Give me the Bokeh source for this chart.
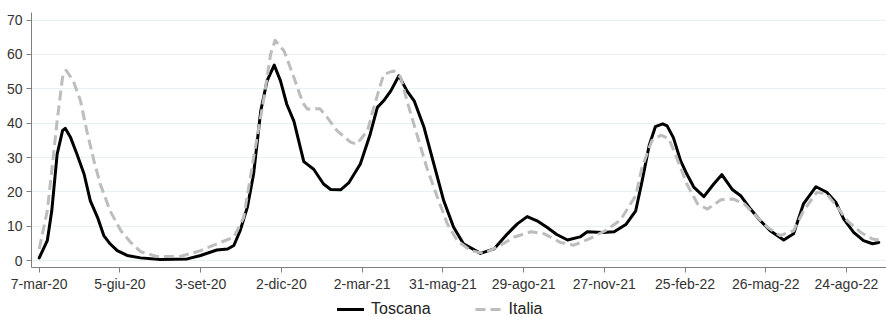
from bokeh.plotting import figure
from bokeh.models import Range1d, FixedTicker, Legend, LegendItem
from bokeh.layouts import column
from bokeh.embed import file_html
from bokeh.resources import INLINE

# day offsets from 7-mar-2020
tos_days = [0, 9, 14, 20, 26, 29, 35, 42, 50, 57, 65, 72, 79, 87, 98, 113, 135, 165, 180, 198,
            210, 217, 224, 232, 239, 247, 254, 262, 269, 276, 284, 291, 295, 306, 317, 325, 336, 345,
            358, 369, 377, 384, 392, 401, 410, 418, 429, 440, 451, 462, 473, 492, 507, 522, 533, 544,
            555, 566, 577, 589, 603, 611, 628, 641, 654, 665, 672, 680, 687, 695, 700, 707, 715, 722,
            730, 741, 752, 761, 773, 782, 793, 804, 815, 830, 841, 852, 866, 878, 888, 897, 908, 919,
            929, 936]
tos_vals = [0.8, 5.8, 14.5, 31, 37.8, 38.5, 35.8, 31, 25.2, 17.4, 12.6, 7.3, 4.9, 2.9, 1.5, 0.8, 0.3, 0.5, 1.5, 3.1,
            3.4, 4.4, 8.7, 15.5, 25.2, 43.6, 52.3, 56.9, 52.3, 45.5, 40.5, 33, 28.8, 26.6, 22.3, 20.7, 20.6, 22.6,
            28.1, 36.8, 44.6, 46.5, 49.4, 53.8, 49.4, 46.5, 38.8, 28.1, 17.4, 9.7, 4.9, 2.1, 3.4, 7.8, 10.7, 12.8,
            11.6, 9.7, 7.6, 6.0, 6.9, 8.4, 8.2, 8.4, 10.5, 14.5, 23, 33.5, 39, 39.8, 39.2, 35.8, 29.1, 25.2,
            21.3, 18.6, 22.3, 25, 20.6, 18.9, 15, 11.6, 8.7, 6.0, 7.8, 16.5, 21.5, 19.9, 17, 12.1, 8.2, 5.8,
            4.9, 5.3]

ita_days = [0, 9, 14, 20, 26, 30, 38, 46, 53, 61, 68, 79, 91, 102, 113, 131, 157, 180, 198, 217,
            228, 239, 250, 258, 263, 273, 284, 291, 295, 299, 313, 321, 332, 347, 354, 366, 373, 384,
            395, 403, 410, 421, 432, 444, 455, 466, 481, 496, 514, 529, 548, 563, 581, 596, 613, 631,
            648, 665, 672, 683, 693, 702, 712, 722, 734, 745, 760, 774, 786, 797, 812, 826, 841, 852,
            867, 878, 890, 901, 916, 929, 936]
ita_vals = [3.4, 14.5, 26.2, 40.7, 53.3, 55.4, 52.3, 46.5, 37.8, 29.1, 22.3, 14.5, 8.7, 5.3, 2.6, 1.2, 1.2, 2.9, 4.9, 6.8,
            12.6, 30, 46.5, 60.1, 64.1, 61, 53.3, 48, 45.5, 44.1, 44.2, 41.7, 37.8, 34.5, 33.9, 37.8, 44.6, 54.2,
            55.2, 53.3, 46.5, 36.8, 27.1, 18.4, 10.7, 5.8, 2.9, 2.1, 4.4, 6.8, 8.4, 7.8, 5.3, 4.5, 6.3, 8.7,
            11.8, 18.9, 27.1, 34.9, 36.5, 35.5, 29.1, 22.3, 16.5, 15, 17.7, 17.9, 16.5, 13.6, 9.7, 7.3, 8.7, 14.5,
            19.9, 19.4, 15.5, 11.6, 8.2, 6.3, 6.0]

tick_days = [0, 90, 180, 270, 360, 450, 540, 630, 720, 810, 900]
tick_labels = ["7-mar-20", "5-giu-20", "3-set-20", "2-dic-20", "2-mar-21", "31-mag-21",
               "29-ago-21", "27-nov-21", "25-feb-22", "26-mag-22", "24-ago-22"]
y_ticks = [0, 10, 20, 30, 40, 50, 60, 70]
series_names = ["Toscana", "Italia"]

FONT = "Liberation Sans"
TOS_STYLE = dict(line_color="#000000", line_width=3, line_join="round", line_cap="round")
ITA_STYLE = dict(line_color="#bdbdbd", line_width=3, line_dash="10 5", line_join="round")

p = figure(width=886, height=298, output_backend="svg", toolbar_location=None,
           x_range=Range1d(-8.6, 944.6), y_range=Range1d(-2, 72.2),
           min_border_left=31, min_border_right=0, min_border_top=12, min_border_bottom=31)
p.outline_line_color = None
p.background_fill_color = "white"
p.border_fill_color = "white"

p.line(tos_days, tos_vals, **TOS_STYLE)
p.line(ita_days, ita_vals, **ITA_STYLE)

p.xaxis.ticker = FixedTicker(ticks=tick_days)
p.xaxis.major_label_overrides = {d: l for d, l in zip(tick_days, tick_labels)}
p.yaxis.ticker = FixedTicker(ticks=y_ticks)

for ax in (p.xaxis[0], p.yaxis[0]):
    ax.axis_line_color = "#7f7f7f"
    ax.axis_line_width = 1
    ax.major_tick_line_color = "#7f7f7f"
    ax.major_tick_out = 5
    ax.major_tick_in = 0
    ax.minor_tick_line_color = None
    ax.major_label_text_font = FONT
    ax.major_label_text_font_size = "14px"
    ax.major_label_text_color = "#333333"
p.yaxis.major_label_standoff = 4
p.xaxis.major_label_standoff = 3

p.xgrid.grid_line_color = None
p.ygrid.grid_line_color = "#e8f1f1"
p.ygrid.grid_line_width = 1

# legend strip below the chart
lg = figure(width=886, height=19, output_backend="svg", toolbar_location=None,
            x_range=Range1d(0, 1), y_range=Range1d(0, 1),
            x_axis_location=None, y_axis_location=None,
            min_border_left=0, min_border_right=0, min_border_top=0, min_border_bottom=0)
lg.grid.visible = False
lg.outline_line_color = None
lr1 = lg.line([-2, -1], [-2, -1], **TOS_STYLE)
lr2 = lg.line([-2, -1], [-2, -1], **ITA_STYLE)
legend = Legend(items=[LegendItem(label=series_names[0], renderers=[lr1]),
                       LegendItem(label=series_names[1], renderers=[lr2])],
                orientation="horizontal", location=(306, -1),
                padding=0, margin=0, spacing=44, border_line_color=None,
                background_fill_alpha=0,
                glyph_width=27, glyph_height=18, label_height=18, label_standoff=7,
                label_text_font=FONT, label_text_font_size="16px", label_text_color="#222222")
lg.add_layout(legend, "center")

open("out.html", "w").write(file_html(column(p, lg, spacing=0), INLINE))
